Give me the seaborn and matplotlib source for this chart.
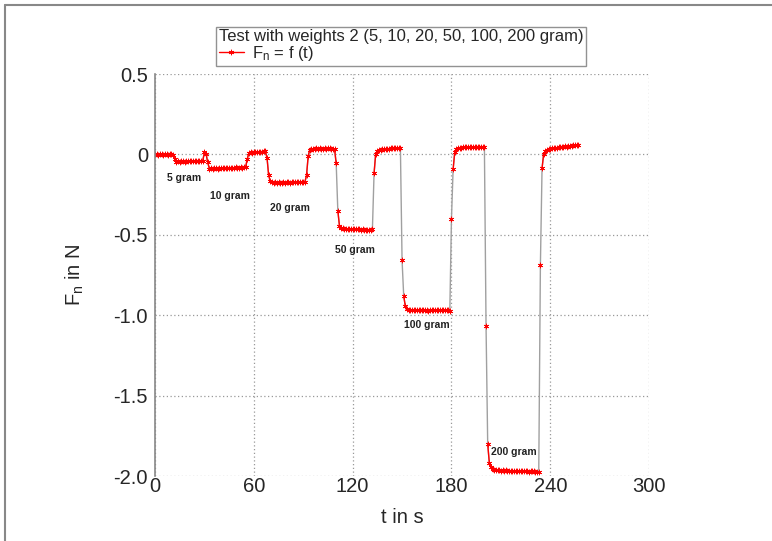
import numpy as np
import pandas as pd
import matplotlib
matplotlib.use("Agg")
import matplotlib.pyplot as plt
import seaborn as sns
from matplotlib.lines import Line2D

# force readings, one sample per second (N)
zero_start = [0.000, 0.002, -0.001, 0.001, 0.000, -0.002, 0.001, 0.000, -0.001, 0.002, 0.000, -0.001, -0.030]
w5 = [-0.045, -0.043, -0.046, -0.044, -0.042, -0.045, -0.043, -0.041, -0.044, -0.042, -0.040, -0.043,
      -0.041, -0.039, -0.042, -0.040, -0.038, 0.012, 0.004, -0.050]
w10 = [-0.088, -0.086, -0.089, -0.087, -0.085, -0.088, -0.086, -0.084, -0.087, -0.085, -0.083, -0.086,
       -0.084, -0.082, -0.085, -0.083, -0.081, -0.084, -0.082, -0.080, -0.083, -0.081, -0.079, -0.030]
rest1 = [0.010, 0.012, 0.011, 0.014, 0.013, 0.015, 0.017, 0.016, 0.018, 0.020, 0.019, -0.020, -0.130]
w20 = [-0.168, -0.172, -0.175, -0.173, -0.176, -0.174, -0.177, -0.175, -0.173, -0.176, -0.174, -0.172,
       -0.175, -0.173, -0.171, -0.174, -0.172, -0.170, -0.173, -0.171, -0.169, -0.172, -0.130, -0.010]
rest2 = [0.030, 0.034, 0.036, 0.035, 0.037, 0.036, 0.038, 0.036, 0.035, 0.037, 0.036, 0.038, 0.037,
         0.035, 0.036, 0.034, -0.055, -0.350, -0.445]
w50 = [-0.458, -0.460, -0.462, -0.461, -0.463, -0.462, -0.464, -0.463, -0.465, -0.464, -0.466, -0.465,
       -0.467, -0.466, -0.468, -0.467, -0.469, -0.468, -0.470, -0.466, -0.118, 0.005]
rest3 = [0.022, 0.028, 0.030, 0.032, 0.031, 0.034, 0.035, 0.034, 0.037, 0.038, 0.040, 0.039, 0.042,
         0.041, 0.038, -0.657, -0.880, -0.945]
w100 = [-0.962, -0.965, -0.968, -0.966, -0.969, -0.967, -0.970, -0.968, -0.966, -0.969, -0.967, -0.970,
        -0.968, -0.971, -0.969, -0.967, -0.970, -0.968, -0.966, -0.969, -0.967, -0.970, -0.968, -0.966,
        -0.969, -0.967, -0.975, -0.400, -0.093, 0.015]
rest4 = [0.035, 0.040, 0.042, 0.041, 0.044, 0.043, 0.045, 0.044, 0.046, 0.045, 0.047, 0.046, 0.048,
         0.046, 0.047, 0.049, 0.047, 0.045, -1.070, -1.800, -1.920]
w200 = [-1.945, -1.955, -1.960, -1.962, -1.965, -1.963, -1.966, -1.964, -1.967, -1.965, -1.968, -1.966,
        -1.969, -1.967, -1.970, -1.968, -1.966, -1.969, -1.967, -1.970, -1.968, -1.971, -1.969, -1.972,
        -1.970, -1.968, -1.971, -1.973, -1.972, -1.975, -0.688, -0.087]
rest5 = [0.005, 0.020, 0.028, 0.032, 0.035, 0.038, 0.040, 0.042, 0.041, 0.044, 0.046, 0.045, 0.048,
         0.050, 0.049, 0.052, 0.054, 0.053, 0.056, 0.058, 0.057, 0.060]

weight_labels = ["5 gram", "10 gram", "20 gram", "50 gram", "100 gram", "200 gram"]
label_t = [17.5, 45.5, 82, 121.5, 165, 218]
label_F = [-0.145, -0.258, -0.333, -0.595, -1.062, -1.85]

x_ticks = [0, 60, 120, 180, 240, 300]
y_ticks = [0.5, 0, -0.5, -1.0, -1.5, -2.0]
y_tick_labels = ["0.5", "0", "-0.5", "-1.0", "-1.5", "-2.0"]

force = np.array(zero_start + w5 + w10 + rest1 + w20 + rest2 + w50 + rest3 + w100 + rest4 + w200 + rest5)
df = pd.DataFrame({"t": np.arange(len(force)), "F": force})
# split the red trace wherever the weight is put on / taken off
df["seg"] = (df["F"].diff().abs() > 0.2).cumsum()

sns.set_style("white")
plt.rcParams["font.family"] = ["Liberation Sans", "DejaVu Sans"]
plt.rcParams["mathtext.fontset"] = "custom"
plt.rcParams["mathtext.rm"] = "Liberation Sans"
plt.rcParams["mathtext.it"] = "Liberation Sans"

fig = plt.figure(figsize=(7.72, 5.41), dpi=100)
ax = fig.add_axes([0.2008, 0.1201, 0.64, 0.7431])

sns.lineplot(data=df, x="t", y="F", color="#a0a0a0", lw=1.0, ax=ax, sort=False, estimator=None)
sns.lineplot(data=df, x="t", y="F", units="seg", estimator=None, sort=False, color="red", lw=1.0,
             marker=(6, 2, 0), markersize=4, markeredgecolor="red", markeredgewidth=0.5, ax=ax)

for lab, tx, fy in zip(weight_labels, label_t, label_F):
    ax.text(tx, fy, lab, ha="center", va="center", fontsize=7.5, fontweight="bold", color="#222222")

ax.set_xlim(0, 300)
ax.set_ylim(-2.0, 0.5)
ax.set_xticks(x_ticks)
ax.set_xticks([30, 90, 150, 210, 270], minor=True)
ax.set_yticks(y_ticks)
ax.set_yticklabels(y_tick_labels)
ax.set_yticks([0.25, -0.25, -0.75, -1.25, -1.75], minor=True)
ax.tick_params(axis="x", which="both", direction="in", length=3, color="#999999", labelsize=14.5, pad=1)
ax.tick_params(axis="y", which="major", direction="out", length=4, color="#999999", labelsize=14.5, pad=1)
ax.tick_params(axis="y", which="minor", direction="in", length=3, color="#999999")
ax.grid(True, which="major", ls=(0, (1, 2)), color="#999999", lw=0.9)
for s in ["top", "right", "bottom"]:
    ax.spines[s].set_visible(False)
ax.spines["left"].set_color("#888888")
ax.spines["left"].set_linewidth(1.2)
ax.set_axisbelow(True)

ax.set_xlabel("t in s", fontsize=14.5, labelpad=8)
ax.set_ylabel("F$_\\mathregular{n}$ in N", fontsize=14.5, labelpad=20)

handle = Line2D([], [], color="red", lw=1, marker=(6, 2, 0), markersize=4, markeredgewidth=0.5)
leg = ax.legend([handle], ["F$_\\mathregular{n}$ = f (t)"], title="Test with weights 2 (5, 10, 20, 50, 100, 200 gram)",
                loc="lower center", bbox_to_anchor=(0.498, 1.0), fontsize=12, title_fontsize=12,
                alignment="left", frameon=True, fancybox=False, borderpad=0.15, handlelength=1.5,
                handletextpad=0.5, labelspacing=0.1)
leg.get_frame().set_edgecolor("#777777")
leg.get_frame().set_linewidth(1.0)
leg._legend_box.sep = 0

# outer picture frame (top and left visible)
fig.add_artist(Line2D([0.007, 1.0], [0.991, 0.991], color="#888888", lw=1.5))
fig.add_artist(Line2D([0.007, 0.007], [0.0, 0.991], color="#888888", lw=1.5))

fig.savefig("out.png", dpi=100)
